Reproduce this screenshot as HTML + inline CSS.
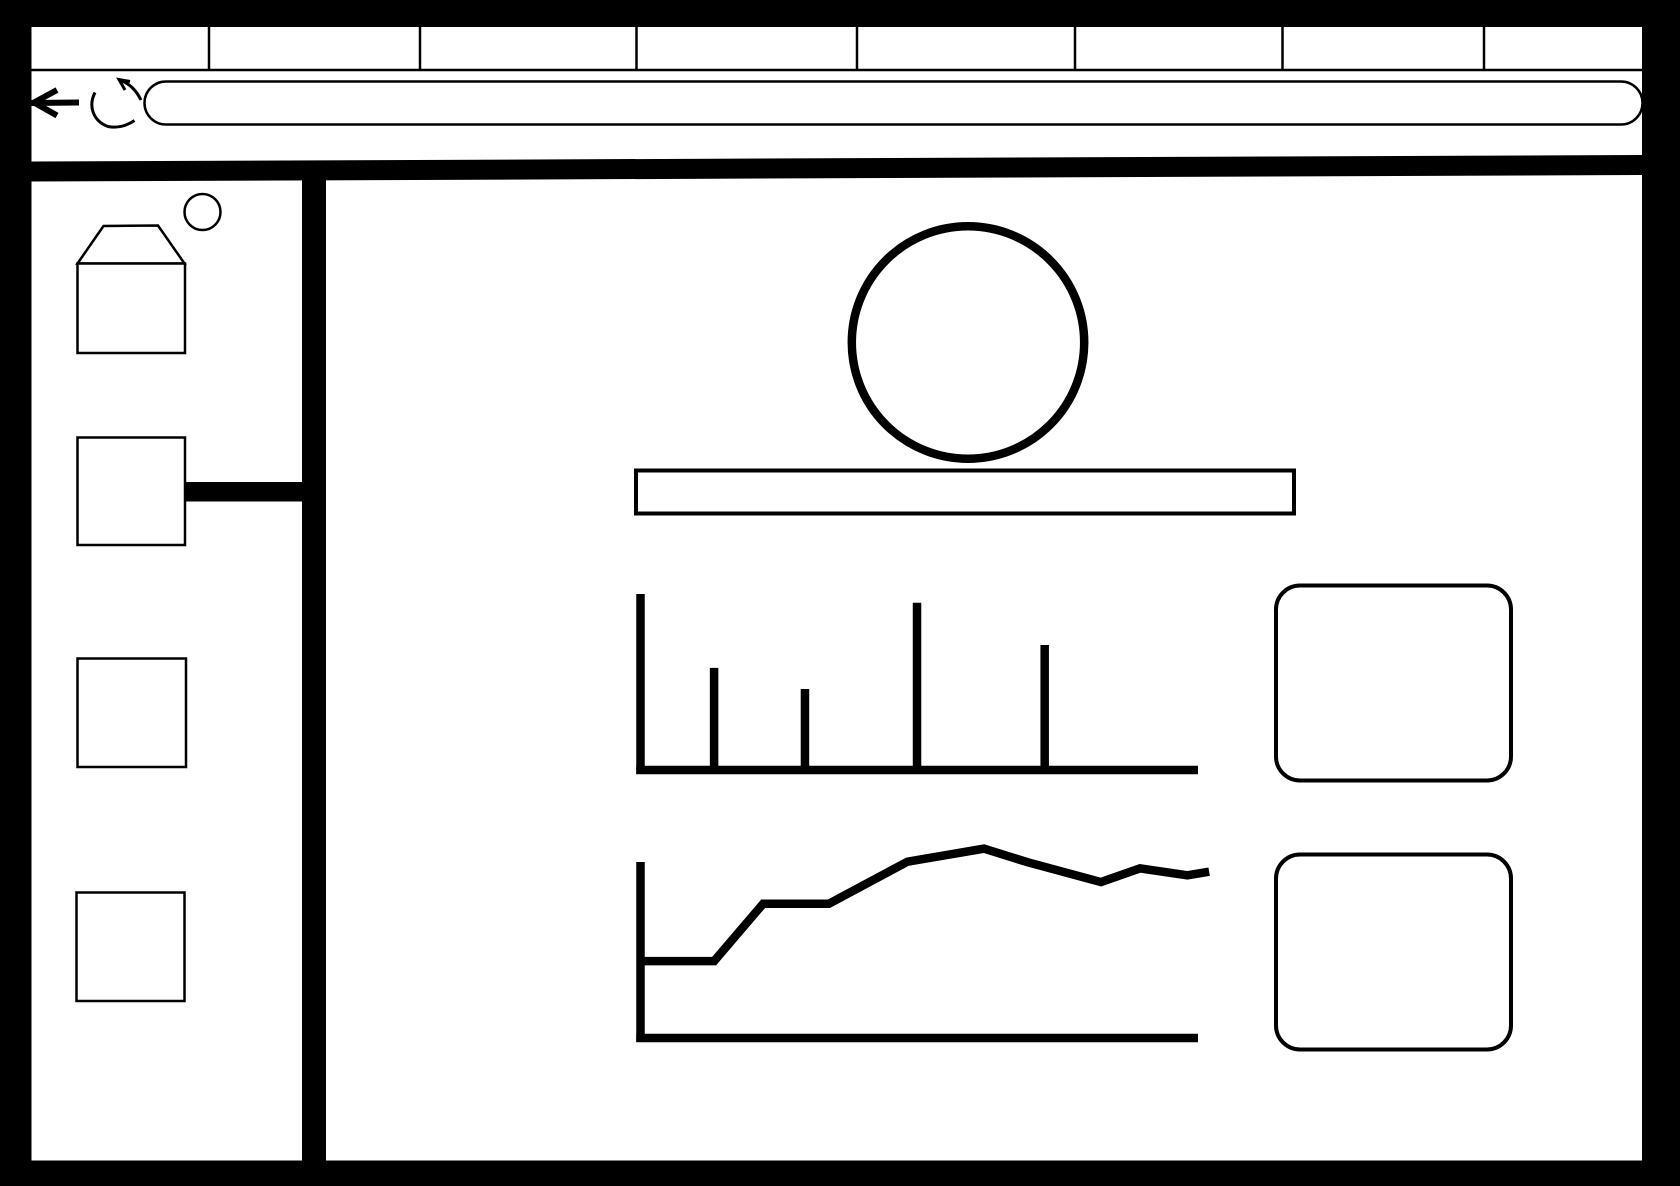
<!DOCTYPE html>
<html lang="en">
<head>
<meta charset="utf-8">
<title>Browser wireframe sketch</title>
<style>
html,body{margin:0;padding:0;background:#fff;width:1680px;height:1186px;overflow:hidden}
svg{display:block}
</style>
</head>
<body>
<svg id="sketch" xmlns="http://www.w3.org/2000/svg" width="1680" height="1186" viewBox="0 0 1680 1186">
  <rect x="0" y="0" width="1680" height="1186" fill="#fff"/>

  <g stroke="#000" stroke-width="2.5" fill="none">
    <line x1="31" y1="70" x2="1642" y2="70"/>
    <line x1="209" y1="27" x2="209" y2="70"/>
    <line x1="420" y1="27" x2="420" y2="70"/>
    <line x1="636.5" y1="27" x2="636.5" y2="70"/>
    <line x1="857" y1="27" x2="857" y2="70"/>
    <line x1="1075" y1="27" x2="1075" y2="70"/>
    <line x1="1282.5" y1="27" x2="1282.5" y2="70"/>
    <line x1="1484" y1="27" x2="1484" y2="70"/>
  </g>

  <rect x="144.5" y="81.5" width="1498" height="43" rx="21.5" ry="21.5" fill="#fff" stroke="#000" stroke-width="2.5"/>

  <g fill="none" stroke="#000" stroke-width="6">
    <line x1="31" y1="103" x2="79" y2="102.5"/>
    <polyline points="57,90 34,102.5 57,115.5"/>
  </g>

  <g fill="none" stroke="#000" stroke-width="3">
    <path d="M95,92.5 C88,106 93,121 108,126.5 C118,128.5 127,125.5 134.5,120.5"/>
    <path d="M141,100 C136,90 130,84 120,80"/>
    <polyline points="130,81.5 119,79.5 125,90"/>
  </g>

  <path d="M31,161.5 L1642,155 L1642,175 L31,181.5 Z" fill="#000"/>
  <rect x="302" y="170" width="24" height="995" fill="#000"/>

  <g fill="#fff" stroke="#000" stroke-width="2.5">
    <circle cx="202.5" cy="212" r="18"/>
    <polygon points="77.5,263.5 103.5,226 158,225.5 184.5,263.5"/>
    <rect x="77.5" y="263.5" width="107.5" height="89.5"/>
    <rect x="77.5" y="437.5" width="107.5" height="107.5"/>
    <rect x="77.5" y="658.5" width="108.5" height="108.5"/>
    <rect x="76.5" y="892.5" width="108" height="108.5"/>
  </g>
  <rect x="185" y="482" width="118" height="19.5" fill="#000"/>

  <circle cx="968" cy="342.5" r="116.2" fill="#fff" stroke="#000" stroke-width="8.5"/>
  <rect x="636" y="470.5" width="658" height="43" fill="#fff" stroke="#000" stroke-width="4"/>

  <g id="bar-chart"></g>
  <g id="line-chart"></g>

  <rect x="1276" y="585.5" width="235" height="195" rx="24" ry="24" fill="#fff" stroke="#000" stroke-width="4"/>
  <rect x="1276" y="854.5" width="235" height="195" rx="24" ry="24" fill="#fff" stroke="#000" stroke-width="4"/>

  <g fill="#000">
    <rect x="0" y="0" width="1680" height="27"/>
    <rect x="0" y="0" width="31.5" height="1186"/>
    <rect x="1642" y="0" width="38" height="1186"/>
    <rect x="0" y="1160.5" width="1680" height="25.5"/>
  </g>
</svg>

<script>
var barCategories = [13.2, 29.5, 49.6, 72.5];
var barValues = [58, 46, 95, 71];
var lineCategories = [0, 13.2, 22, 33.8, 47.9, 61.6, 69.5, 82.6, 89.6, 98.1, 102];
var lineValues = [43.7, 43.7, 76.3, 76.3, 100.2, 107.6, 99.8, 88.6, 96.4, 92.4, 94.5];

var SVG_NS = 'http://www.w3.org/2000/svg';
function xScale(v) { return 640.5 + v * 5.575; }
function barY(v) { return 770 - v * 1.76; }
function lineY(v) { return 1038 - v * 1.76; }

function drawSegment(parent, x1, y1, x2, y2, width) {
  var el = document.createElementNS(SVG_NS, 'line');
  el.setAttribute('x1', x1);
  el.setAttribute('y1', y1);
  el.setAttribute('x2', x2);
  el.setAttribute('y2', y2);
  el.setAttribute('stroke', '#000');
  el.setAttribute('stroke-width', width);
  parent.appendChild(el);
  return el;
}

var barChart = document.getElementById('bar-chart');
var barYAxis = drawSegment(barChart, xScale(0), barY(100), xScale(0), barY(0) + 4, 8.5);


var barXAxis = drawSegment(barChart, xScale(0) - 4.25, barY(0), xScale(100), barY(0), 8.5);


barValues.forEach(function (value, i) {
  var bar = drawSegment(barChart, xScale(barCategories[i]), barY(value), xScale(barCategories[i]), barY(0), 8.5);
  
  
});

var lineChart = document.getElementById('line-chart');
var lineYAxis = drawSegment(lineChart, xScale(0), lineY(100), xScale(0), lineY(0) + 4, 8.5);


var lineXAxis = drawSegment(lineChart, xScale(0) - 4.25, lineY(0), xScale(100), lineY(0), 8.5);


var linePath = document.createElementNS(SVG_NS, 'polyline');


linePath.setAttribute('fill', 'none');
linePath.setAttribute('stroke', '#000');
linePath.setAttribute('stroke-width', '8.5');
linePath.setAttribute('points', lineValues.map(function (value, i) {
  return xScale(lineCategories[i]) + ',' + lineY(value);
}).join(' '));
lineChart.appendChild(linePath);
</script>
</body>
</html>
